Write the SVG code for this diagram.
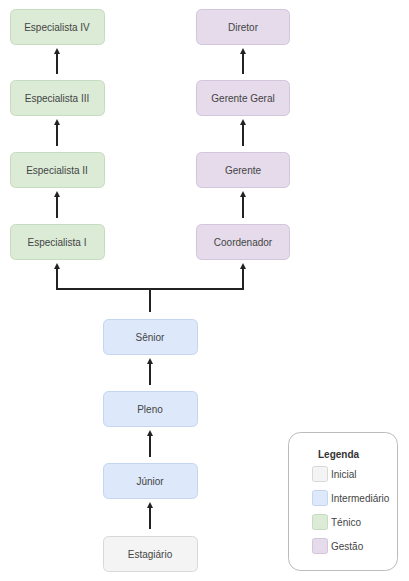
<svg xmlns="http://www.w3.org/2000/svg" width="409" height="581" viewBox="0 0 409 581">
<style>
text{font-family:"Liberation Sans",Arial,sans-serif;font-size:10px;fill:#444;}
.n text{text-anchor:middle;dominant-baseline:central;}
.g{fill:#dbebd6;stroke:#c6dcc0;stroke-width:1;}
.p{fill:#e5dbeb;stroke:#d3c6dc;stroke-width:1;}
.b{fill:#dde8fb;stroke:#c6d5ef;stroke-width:1;}
.i{fill:#f4f4f4;stroke:#d8d8d8;stroke-width:1;}
.c path{fill:none;stroke:#222;stroke-width:2;}
</style>
<defs>
<marker id="ah" markerWidth="6" markerHeight="6" refX="3" refY="3" orient="auto" markerUnits="userSpaceOnUse" viewBox="0 0 6 6">
<path d="M0,0 L6,3 L0,6 Z" fill="#222"/>
</marker>
</defs>
<rect width="409" height="581" fill="#fff"/>
<g class="c" id="connectors">
<path d="M57,74 L57,51" marker-end="url(#ah)"/>
<path d="M57,146 L57,122" marker-end="url(#ah)"/>
<path d="M57,218 L57,194" marker-end="url(#ah)"/>
<path d="M243,74 L243,51" marker-end="url(#ah)"/>
<path d="M243,146 L243,122" marker-end="url(#ah)"/>
<path d="M243,218 L243,194" marker-end="url(#ah)"/>
<path d="M150,312 L150,289"/>
<path d="M57,289 L243,289"/>
<path d="M57,290 L57,266" marker-end="url(#ah)"/>
<path d="M243,290 L243,266" marker-end="url(#ah)"/>
<path d="M150,385 L150,361" marker-end="url(#ah)"/>
<path d="M150,457 L150,433" marker-end="url(#ah)"/>
<path d="M150,529 L150,505" marker-end="url(#ah)"/>
</g>
<g class="n" id="especialista4"><rect class="g" x="10.5" y="9.5" width="94" height="35" rx="5"/><text x="57" y="27">Especialista IV</text></g>
<g class="n" id="especialista3"><rect class="g" x="10.5" y="80.5" width="94" height="35" rx="5"/><text x="57" y="98">Especialista III</text></g>
<g class="n" id="especialista2"><rect class="g" x="10.5" y="152.5" width="94" height="35" rx="5"/><text x="57" y="170">Especialista II</text></g>
<g class="n" id="especialista1"><rect class="g" x="10.5" y="224.5" width="94" height="35" rx="5"/><text x="57" y="242">Especialista I</text></g>
<g class="n" id="diretor"><rect class="p" x="196.5" y="9.5" width="93" height="35" rx="5"/><text x="243" y="27">Diretor</text></g>
<g class="n" id="gerentegeral"><rect class="p" x="196.5" y="80.5" width="93" height="35" rx="5"/><text x="243" y="98">Gerente Geral</text></g>
<g class="n" id="gerente"><rect class="p" x="196.5" y="152.5" width="93" height="35" rx="5"/><text x="243" y="170">Gerente</text></g>
<g class="n" id="coordenador"><rect class="p" x="196.5" y="224.5" width="93" height="35" rx="5"/><text x="243" y="242">Coordenador</text></g>
<g class="n" id="senior"><rect class="b" x="103.5" y="319.5" width="94" height="35" rx="5"/><text x="150" y="337">Sênior</text></g>
<g class="n" id="pleno"><rect class="b" x="103.5" y="391.5" width="94" height="35" rx="5"/><text x="150" y="409">Pleno</text></g>
<g class="n" id="junior"><rect class="b" x="103.5" y="463.5" width="94" height="35" rx="5"/><text x="150" y="481">Júnior</text></g>
<g class="n" id="estagiario"><rect class="i" x="103.5" y="536.5" width="94" height="35" rx="5"/><text x="150" y="554">Estagiário</text></g>
<g id="legenda">
<rect x="288.5" y="432.5" width="109" height="138" rx="12" fill="#fff" stroke="#bbb" stroke-width="1"/>
<text x="318" y="458" style="font-weight:bold;fill:#333">Legenda</text>
<rect class="i" x="312.5" y="466.5" width="15" height="15" rx="2"/><text x="331" y="478">Inicial</text>
<rect class="b" x="312.5" y="490.5" width="15" height="15" rx="2"/><text x="331" y="502">Intermediário</text>
<rect class="g" x="312.5" y="514.5" width="15" height="15" rx="2"/><text x="331" y="526">Ténico</text>
<rect class="p" x="312.5" y="538.5" width="15" height="15" rx="2"/><text x="331" y="550">Gestão</text>
</g>
</svg>
